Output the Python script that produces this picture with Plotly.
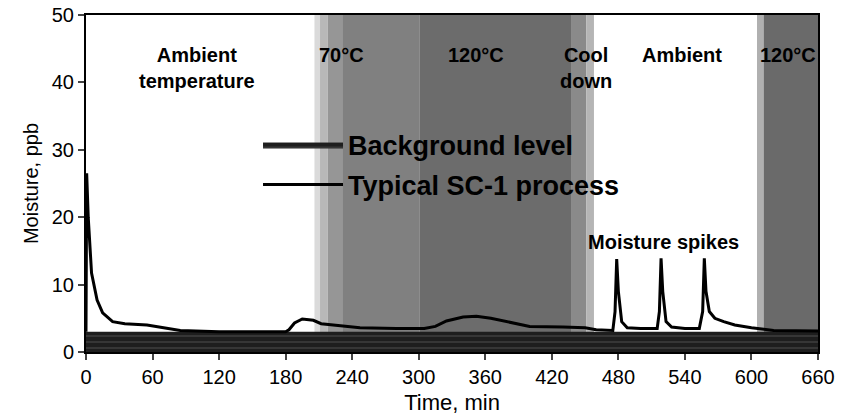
import plotly.graph_objects as go

# ---- data ----
time_process = [0, 0.6, 2, 5, 10, 15, 24, 35, 55, 70, 85, 120, 180, 183, 188, 195,
                205, 212, 225, 247, 280, 305, 315, 325, 340, 352, 365, 380, 400, 430,
                450, 460, 470, 475, 477, 478.5, 480, 483, 488, 500, 515, 517, 518.5,
                520, 523, 528, 540, 553, 556, 557.5, 559, 562, 567, 575, 585, 600, 620, 660]
moisture_process = [3.0, 26.5, 20.0, 11.7, 7.7, 5.8, 4.5, 4.2, 4.0, 3.6, 3.2, 3.0, 3.0, 3.3, 4.3, 4.9,
                    4.7, 4.2, 4.0, 3.6, 3.5, 3.5, 3.8, 4.6, 5.2, 5.3, 5.0, 4.5, 3.8, 3.7,
                    3.6, 3.3, 3.2, 3.2, 6.0, 13.8, 9.0, 4.5, 3.6, 3.5, 3.5, 6.0, 13.9,
                    9.0, 4.5, 3.7, 3.5, 3.5, 6.0, 13.9, 9.0, 6.0, 5.0, 4.5, 4.0, 3.6, 3.2, 3.1]
time_background = [0, 660]
moisture_background = [3.0, 3.0]

# heated phases (min)
heat1_start, heat1_end = 206, 458
heat2_start, heat2_end = 605, 660

phase_labels = ["Ambient<br>temperature", "70°C", "120°C", "Cool<br>down", "Ambient", "120°C"]
phase_label_x = [100, 230, 352, 451, 537, 633]
phase_label_y = [42.2, 44.1, 44.1, 42.2, 44.1, 44.1]

x_ticks = list(range(0, 661, 60))
y_ticks = list(range(0, 51, 10))

FONT = "Liberation Sans, Arial, sans-serif"

fig = go.Figure()

# shaded heating zones (gradient edges)
def band(x0, x1, color):
    fig.add_shape(type="rect", xref="x", yref="y", x0=x0, x1=x1, y0=0, y1=50,
                  fillcolor=color, line_width=0, layer="below")

band(heat1_start, heat1_start + 5, "#dadada")
band(heat1_start + 5, heat1_start + 12, "#b8b8b8")
band(heat1_start + 12, heat1_start + 25, "#969696")
band(heat1_start + 25, heat1_start + 95, "#808080")
band(heat1_start + 95, heat1_end - 20, "#6c6c6c")
band(heat1_end - 20, heat1_end - 7, "#8a8a8a")
band(heat1_end - 7, heat1_end, "#b5b5b5")
band(heat2_start, heat2_start + 6, "#b0b0b0")
band(heat2_start + 6, heat2_end, "#6a6a6a")

fig.add_trace(go.Scatter(
    x=time_background, y=moisture_background, mode="lines",
    line=dict(width=0, color="#1e1e1e"), fill="tozeroy", fillcolor="#1e1e1e",
    fillpattern=dict(shape="-", fgcolor="#bbbbbb", bgcolor="#1e1e1e", size=6, solidity=0.1),
    name="<b>Background level</b>", legendgroup="a"))
fig.add_trace(go.Scatter(
    x=time_process, y=moisture_process, mode="lines",
    line=dict(width=3, color="black"),
    name="<b>Typical SC-1 process</b>", legendgroup="b"))

for t, x, y in zip(phase_labels, phase_label_x, phase_label_y):
    fig.add_annotation(x=x, y=y, text="<b>" + t + "</b>", showarrow=False,
                       font=dict(size=20, family=FONT, color="black"), xref="x", yref="y")
fig.add_annotation(x=521, y=16.3, text="<b>Moisture spikes</b>", showarrow=False,
                   font=dict(size=20, family=FONT, color="black"))

fig.update_layout(
    width=846, height=419,
    margin=dict(l=86, r=28, t=15, b=67),
    plot_bgcolor="white", paper_bgcolor="white",
    font=dict(family=FONT, size=20, color="black"),
    showlegend=True,
    legend=dict(x=0.235, y=0.555, xanchor="left", yanchor="middle",
                bgcolor="rgba(0,0,0,0)", itemwidth=80, traceorder="grouped",
                tracegroupgap=2, font=dict(size=27, family=FONT, color="black")),
    xaxis=dict(range=[0, 660], tickvals=x_ticks, ticks="outside", ticklen=6,
               tickwidth=1.5, showgrid=False, zeroline=False, showline=True,
               linecolor="black", linewidth=2, mirror=True, automargin=False,
               title=dict(text="Time, min", standoff=8,
                          font=dict(size=22, family=FONT, color="black")),
               tickfont=dict(size=20, family=FONT, color="black")),
    yaxis=dict(range=[0, 50], tickvals=y_ticks, ticks="outside", ticklen=6,
               tickwidth=1.5, showgrid=False, zeroline=False, showline=True,
               linecolor="black", linewidth=2, mirror=True, automargin=False,
               title=dict(text="Moisture, ppb", standoff=8,
                          font=dict(size=20, family=FONT, color="black")),
               tickfont=dict(size=20, family=FONT, color="black")),
)

fig.write_html("out.html")
